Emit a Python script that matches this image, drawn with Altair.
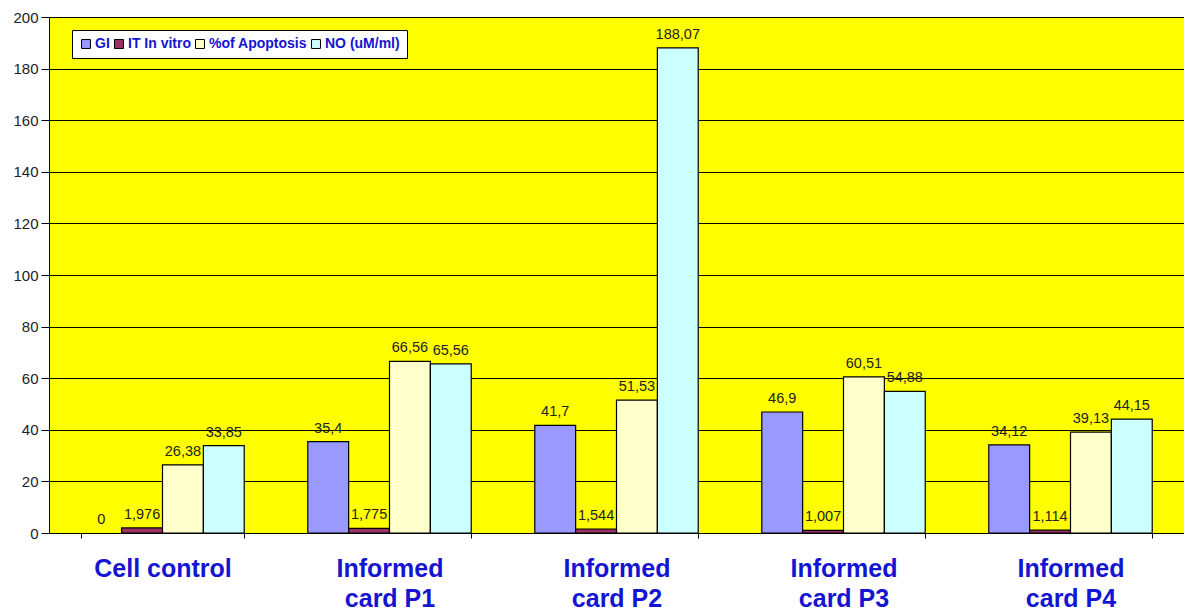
import altair as alt
import pandas as pd

categories = ["Cell control", "Informed\ncard P1", "Informed\ncard P2", "Informed\ncard P3", "Informed\ncard P4"]
series = ["GI", "IT In vitro", "%of Apoptosis", "NO (uM/ml)"]
gi = [0, 35.4, 41.7, 46.9, 34.12]
it_in_vitro = [1.976, 1.775, 1.544, 1.007, 1.114]
apoptosis = [26.38, 66.56, 51.53, 60.51, 39.13]
no_values = [33.85, 65.56, 188.07, 54.88, 44.15]
colors = ["#9999FF", "#993366", "#FFFFCC", "#CCFFFF"]

rows = []
for s, vals in zip(series, [gi, it_in_vitro, apoptosis, no_values]):
    for c, v in zip(categories, vals):
        lab = "0" if v == 0 else str(v).replace(".", ",")
        rows.append({"category": c, "series": s, "value": v, "label": lab})
df = pd.DataFrame(rows)

x = alt.X("category:N", sort=categories, title=None,
          scale=alt.Scale(paddingInner=0.28, paddingOuter=0.14),
          axis=alt.Axis(labelExpr="split(datum.label, '\\n')", labelAngle=0,
                        labelFont="Liberation Sans", labelFontSize=25, labelFontWeight="bold",
                        labelColor="#1414D2", labelPadding=18, labelLineHeight=30,
                        tickBand="extent", tickColor="black", tickSize=5,
                        domainColor="black", grid=False, labelBaseline="top"))
xo = alt.XOffset("series:N", sort=series, scale=alt.Scale(paddingInner=0, paddingOuter=0))
y = alt.Y("value:Q", title=None,
          scale=alt.Scale(domain=[0, 200], nice=False),
          axis=alt.Axis(values=list(range(0, 201, 20)), labelFont="Liberation Sans",
                        labelFontSize=15, labelColor="#222222", gridColor="black",
                        gridOpacity=1, domainColor="black", tickColor="black",
                        tickSize=8, labelPadding=3))

base = alt.Chart(df)
bars = base.mark_bar(stroke="black", strokeWidth=1.2).encode(
    x=x, xOffset=xo, y=y,
    color=alt.Color("series:N", sort=series,
                    scale=alt.Scale(domain=series, range=colors),
                    legend=alt.Legend(title=None, orient="none", legendX=23, legendY=13,
                                      direction="horizontal", symbolType="square",
                                      symbolSize=80, symbolStrokeColor="black",
                                      symbolStrokeWidth=1, labelFont="Liberation Sans",
                                      labelFontSize=14, labelFontWeight="bold",
                                      labelColor="#1414D2", columnPadding=2,
                                      symbolOffset=0, labelOffset=2,
                                      fillColor="white", strokeColor="black",
                                      padding=7))
).transform_filter("datum.value > 0")
texts = base.mark_text(baseline="bottom", dy=-6, font="Liberation Sans", fontSize=14.5,
                       color="#222222").encode(
    x=x, xOffset=xo, y=y, text="label:N")

chart = (bars + texts).properties(
    width=1135, height=516,
    padding={"left": 49, "top": 17, "right": 0, "bottom": 77},
    autosize=alt.AutoSizeParams(type="none"),
    background="white",
).configure_view(fill="#FFFF00", stroke="black", strokeWidth=1)

chart.save("out.html", embed_options={"renderer": "svg", "actions": False})
